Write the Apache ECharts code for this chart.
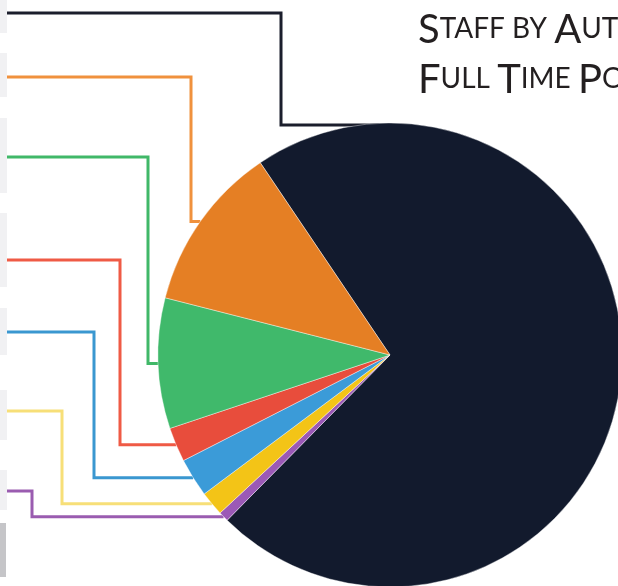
<!DOCTYPE html>
<html>
<head>
<meta charset="utf-8">
<title>Staff by Authority</title>
<style>
    html, body { margin: 0; padding: 0; background: #fff; }
    #pie_staff { width: 618px; height: 586px; }
</style>
<script src="https://cdn.jsdelivr.net/npm/echarts@6/dist/echarts.min.js"></script>
</head>
<body>
<div id="pie_staff"></div>
<script>
// Chart data
// ------------------------------

// Slice names (labels sit off the left edge of the crop)
var sliceNames = ['Authority A', 'Authority B', 'Authority C', 'Authority D', 'Authority E', 'Authority F', 'Authority G'];

// Share of full time positions, %
var sliceValues = [71.9, 0.7, 1.7, 2.7, 2.4, 9.1, 11.6];

// Title lines, small caps: [capital, rest] pairs
var titleLine1 = [['S', 'TAFF BY '], ['A', 'UTHORITY']];
var titleLine2 = [['F', 'ULL '], ['T', 'IME '], ['P', 'OSITIONS']];


// Setup module
// ------------------------------

var EchartsStaffPie = function() {

    // Slice and leader line colours
    var sliceColors = ['#121a2d', '#9b59b6', '#f3c417', '#3b9bd8', '#e84d3c', '#40b96b', '#e57f24'];
    var lineColors  = ['#1b1e2c', '#9a5cb0', '#f7df78', '#3a97d0', '#ef5a45', '#40b868', '#f0913d'];

    // Leader line routing: row y at the left edge, x of the vertical elbow, label box
    var lineRows   = [13, 491, 411, 332, 260, 157, 77];
    var elbowX     = [281, 32, 62, 94, 120, 148, 191];
    var boxTop     = [0, 470, 390, 308, 213, 118, 53];
    var boxBottom  = [33, 510, 440, 355, 287, 193, 97];

    var _staffPie = function() {
        if (typeof echarts == 'undefined') {
            console.warn('Warning - echarts.min.js is not loaded.');
            return;
        }

        var pie_element = document.getElementById('pie_staff');
        if (!pie_element) return;

        var pie_chart = echarts.init(pie_element, null, { renderer: 'canvas' });

        // Rich title text
        var makeLine = function(pairs) {
            return pairs.map(function(p) {
                return '{b|' + p[0] + '}{s|' + p[1] + '}';
            }).join('');
        };

        var seriesData = sliceNames.map(function(name, i) {
            return {
                name: name,
                value: sliceValues[i],
                itemStyle: { color: sliceColors[i] },
                labelLine: { lineStyle: { color: lineColors[i] } }
            };
        });

        pie_chart.setOption({

            animation: false,

            textStyle: {
                fontFamily: 'Lato, "Open Sans", sans-serif'
            },

            // Title
            title: {
                left: 418,
                top: 0,
                padding: 0,
                text: makeLine(titleLine1) + '\n' + makeLine(titleLine2),
                textStyle: {
                    color: '#231f20',
                    rich: {
                        b: {
                            fontFamily: 'Lato',
                            fontSize: 40,
                            fontWeight: 'normal',
                            color: '#231f20',
                            verticalAlign: 'bottom',
                            lineHeight: 50
                        },
                        s: {
                            fontFamily: 'Lato',
                            fontSize: 28,
                            fontWeight: 'normal',
                            color: '#231f20',
                            verticalAlign: 'bottom',
                            padding: [0, 0, 7, 0]
                        }
                    }
                }
            },

            // Stray label box at the bottom left edge
            graphic: [{
                type: 'rect',
                shape: { x: 0, y: 523, width: 6, height: 54 },
                style: { fill: '#c5c5c8' },
                silent: true
            }],

            series: [{
                name: 'Full time positions',
                type: 'pie',
                center: [390, 355],
                radius: 232,
                startAngle: 124,
                clockwise: true,
                avoidLabelOverlap: false,
                itemStyle: {
                    borderColor: '#ffffff',
                    borderWidth: 0.4
                },
                label: {
                    show: true,
                    position: 'outside',
                    formatter: '{b}',
                    color: '#333',
                    fontSize: 12,
                    backgroundColor: '#f1f1f3',
                    padding: [0, 14, 0, 0]
                },
                labelLine: {
                    show: true,
                    lineStyle: { width: 3 }
                },
                labelLayout: function(params) {
                    var i = params.dataIndex;
                    var start = params.labelLinePoints ? params.labelLinePoints[0] : [0, 0];
                    var layout = pie_chart.getModel().getSeriesByIndex(0).getData().getItemLayout(i);

                    // The big slice is tied in at the top of the pie
                    if (i === 0) {
                        start = [layout.cx, layout.cy - layout.r + 2];
                    }

                    return {
                        x: 7,
                        y: (boxTop[i] + boxBottom[i]) / 2,
                        align: 'right',
                        verticalAlign: 'middle',
                        width: 110,
                        height: boxBottom[i] - boxTop[i],
                        labelLinePoints: [
                            [start[0], start[1]],
                            [elbowX[i], start[1]],
                            [elbowX[i], lineRows[i]],
                            [5, lineRows[i]]
                        ]
                    };
                },
                data: seriesData
            }]
        });
    };

    return {
        init: function() {
            _staffPie();
        }
    }
}();


// Initialize module
// ------------------------------

document.addEventListener('DOMContentLoaded', function() {
    EchartsStaffPie.init();
});
</script>
</body>
</html>
